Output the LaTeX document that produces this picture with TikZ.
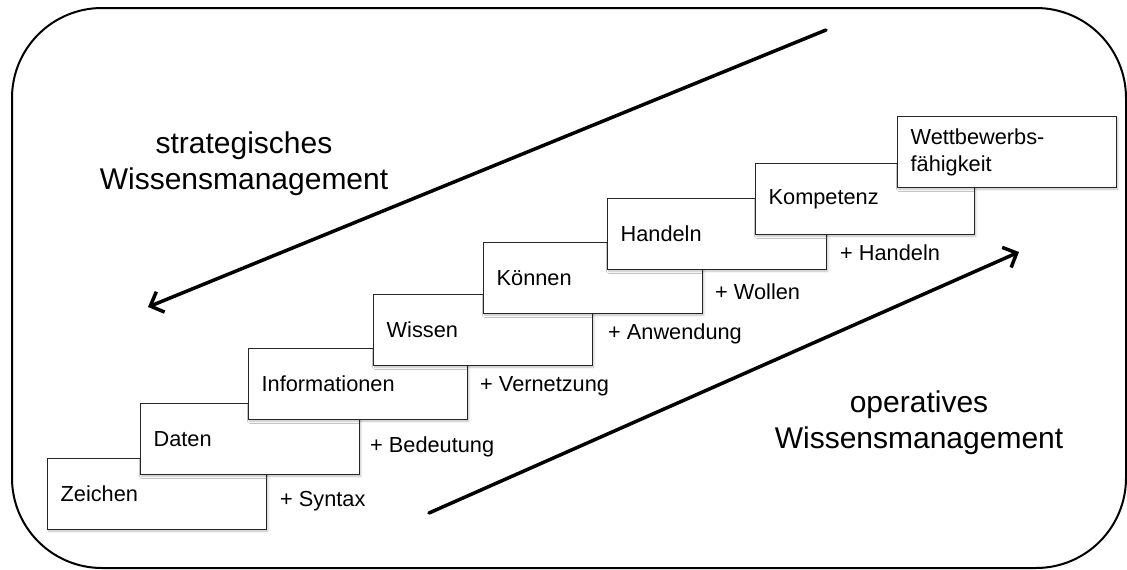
\documentclass[tikz,border=0pt]{standalone}
\usepackage{fontspec}
\setmainfont{Liberation Sans}
\usetikzlibrary{arrows.meta,shadows.blur}
\begin{document}
\begin{tikzpicture}[x=1pt,y=-1pt,
  stufe/.style={draw=black!85, line width=1.3pt, fill=white, anchor=north west,
    minimum height=71pt, text width=193pt, inner xsep=13pt, inner ysep=0pt, align=left,
    font=\fontsize{21.75}{26.5}\selectfont,
    blur shadow={shadow xshift=1pt, shadow yshift=-1.5pt, shadow opacity=25, shadow blur steps=4}},
  plus/.style={anchor=west, inner sep=0pt, font=\fontsize{21.75}{26}\selectfont},
  bereich/.style={align=center, inner sep=0pt, font=\fontsize{30}{36}\selectfont},
  pfeil/.style={line width=3.5pt, line cap=round,
    -{Straight Barb[length=11pt, width=22pt, line width=3.5pt]}}
]
\useasboundingbox (0,0) rectangle (1127,570);

% outer frame
\draw[line width=2pt, rounded corners=90pt] (12,8) rectangle (1126,568);

% the staircase of knowledge levels
\node[stufe] (zeichen) at (47,458)  {Zeichen};
\node[stufe] (daten)   at (140,403) {Daten};
\node[stufe] (info)    at (248,348) {Informationen};
\node[stufe] (wissen)  at (373,294) {Wissen};
\node[stufe] (koennen) at (483,242) {Können};
\node[stufe] (handeln) at (607,198) {Handeln};
\node[stufe] (kompetenz) at (755,163) {Kompetenz};
\node[stufe] (wettbewerb) at (897,116) {Wettbewerbs-\\fähigkeit};

% what is added at each step
\node[plus] (p1) at (280,501) {+ Syntax};
\node[plus] (p2) at (370,447) {+ Bedeutung};
\node[plus] (p3) at (480,386) {+ Vernetzung};
\node[plus] (p4) at (608,334) {+ Anwendung};
\node[plus] (p5) at (715,292) {+ Wollen};
\node[plus] (p6) at (840,253) {+ Handeln};

% directions of knowledge management
\node[bereich] (strat) at (244,164) {strategisches\\Wissensmanagement};
\node[bereich] (oper)  at (919,423) {operatives\\Wissensmanagement};

\coordinate (s0) at (826,30);
\coordinate (s1) at (148,307);
\coordinate (o0) at (429,513);
\coordinate (o1) at (1019,252);
\draw[pfeil] (s0) -- (s1);
\draw[pfeil] (o0) -- (o1);
\end{tikzpicture}
\end{document}
